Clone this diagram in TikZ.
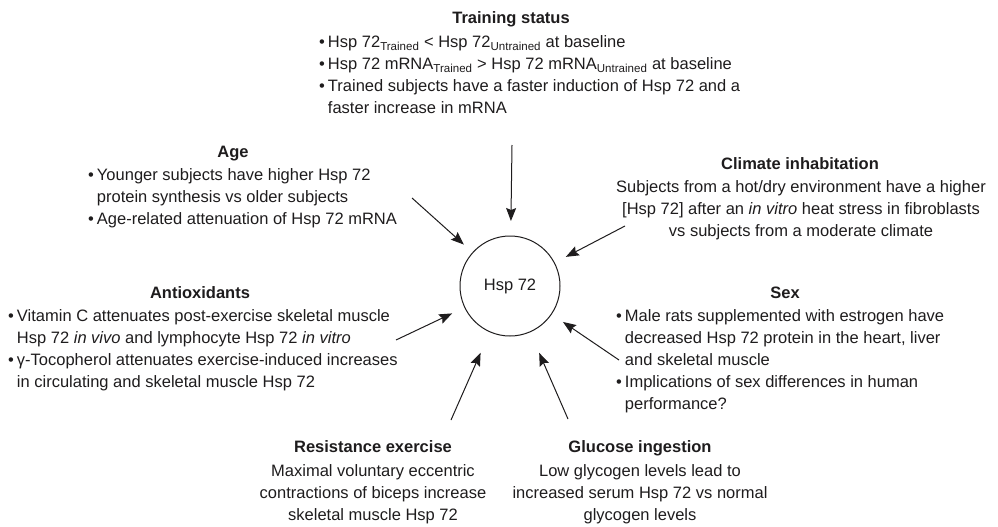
\documentclass[tikz,border=0pt]{standalone}
\usepackage{fontspec}
\setmainfont{Liberation Sans}
\usetikzlibrary{arrows.meta}
\definecolor{ink}{RGB}{30,28,29}
\newcommand{\bl}{\textbullet}

\begin{document}
\begin{tikzpicture}[x=1pt,y=1pt]
\tikzstyle{every node}+=[inner sep=0pt, text=ink, font=\fontsize{16.5}{22}\selectfont]
\tikzstyle{head}=[anchor=base, font=\fontsize{16.5}{22}\selectfont\bfseries]
\tikzstyle{body}=[anchor=base west]
\tikzstyle{cbody}=[anchor=base]
\tikzstyle{arr}=[draw=ink, line width=1pt, -{Stealth[length=13pt,width=10pt,inset=2pt]}]
\useasboundingbox (0,0) rectangle (998,-527);

\node [circle, draw=ink, line width=1pt, minimum size=100pt, outer sep=0pt] (hsp) at (510,-286) {Hsp 72};

\node [head] (train-h) at (511,-24) {Training status};
\node [body] (train) at (319,-48) {\begin{tabular}[t]{@{}l@{\hspace{3pt}}l@{}}
\bl & Hsp 72\textsubscript{Trained} < Hsp 72\textsubscript{Untrained} at baseline\\
\bl & Hsp 72 mRNA\textsubscript{Trained} > Hsp 72 mRNA\textsubscript{Untrained} at baseline\\
\bl & Trained subjects have a faster induction of Hsp 72 and a\\
 & faster increase in mRNA
\end{tabular}};

\node [head] (age-h) at (233,-157) {Age};
\node [body] (age) at (88,-180) {\begin{tabular}[t]{@{}l@{\hspace{3pt}}l@{}}
\bl & Younger subjects have higher Hsp 72\\
 & protein synthesis vs older subjects\\
\bl & Age-related attenuation of Hsp 72 mRNA
\end{tabular}};

\node [head] (clim-h) at (800,-169) {Climate inhabitation};
\node [cbody] (clim) at (801,-192) {\begin{tabular}[t]{@{}c@{}}
Subjects from a hot/dry environment have a higher\\
{[}Hsp 72] after an \textit{in vitro} heat stress in fibroblasts\\
vs subjects from a moderate climate
\end{tabular}};

\node [head] (anti-h) at (200,-298) {Antioxidants};
\node [body] (anti) at (8,-321) {\begin{tabular}[t]{@{}l@{\hspace{3pt}}l@{}}
\bl & Vitamin C attenuates post-exercise skeletal muscle\\
 & Hsp 72 \textit{in vivo} and lymphocyte Hsp 72 \textit{in vitro}\\
\bl & γ-Tocopherol attenuates exercise-induced increases\\
 & in circulating and skeletal muscle Hsp 72
\end{tabular}};

\node [head] (sex-h) at (785,-298) {Sex};
\node [body] (sex) at (616,-321) {\begin{tabular}[t]{@{}l@{\hspace{3pt}}l@{}}
\bl & Male rats supplemented with estrogen have\\
 & decreased Hsp 72 protein in the heart, liver\\
 & and skeletal muscle\\
\bl & Implications of sex differences in human\\
 & performance?
\end{tabular}};

\node [head] (res-h) at (373,-452) {Resistance exercise};
\node [cbody] (res) at (373,-476) {\begin{tabular}[t]{@{}c@{}}
Maximal voluntary eccentric\\
contractions of biceps increase\\
skeletal muscle Hsp 72
\end{tabular}};

\node [head] (glu-h) at (640,-452) {Glucose ingestion};
\node [cbody] (glu) at (640,-476) {\begin{tabular}[t]{@{}c@{}}
Low glycogen levels lead to\\
increased serum Hsp 72 vs normal\\
glycogen levels
\end{tabular}};

\coordinate (train-o) at (512,-145);
\coordinate (age-o) at (412,-198);
\coordinate (clim-o) at (625,-226);
\coordinate (anti-o) at (396,-340);
\coordinate (sex-o) at (619,-360);
\coordinate (res-o) at (451,-420);
\coordinate (glu-o) at (568,-419);

\draw [arr, shorten >=15pt] (train-o) -- (hsp);
\draw [arr, shorten >=12pt] (age-o) -- (hsp);
\draw [arr, shorten >=13pt] (clim-o) -- (hsp);
\draw [arr, shorten >=14pt] (anti-o) -- (hsp);
\draw [arr, shorten >=14pt] (sex-o) -- (hsp);
\draw [arr, shorten >=23pt] (res-o) -- (hsp);
\draw [arr, shorten >=23pt] (glu-o) -- (hsp);
\end{tikzpicture}
\end{document}
